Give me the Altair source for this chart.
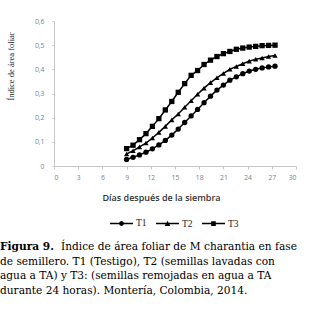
import altair as alt
import pandas as pd

# ---- data ----
days = [9.0, 9.8, 10.6, 11.4, 12.2, 13.0, 13.8, 14.6, 15.4, 16.2, 17.0, 17.8,
        18.6, 19.4, 20.2, 21.0, 21.8, 22.6, 23.4, 24.2, 25.0, 25.8, 26.6, 27.4]
t1 = [0.027, 0.036, 0.046, 0.057, 0.071, 0.087, 0.106, 0.128, 0.153, 0.180, 0.207, 0.234,
      0.262, 0.289, 0.314, 0.335, 0.355, 0.369, 0.382, 0.393, 0.400, 0.406, 0.410, 0.413]
t2 = [0.050, 0.063, 0.079, 0.095, 0.116, 0.139, 0.164, 0.191, 0.215, 0.243, 0.270, 0.297,
      0.322, 0.345, 0.365, 0.383, 0.400, 0.412, 0.423, 0.434, 0.442, 0.447, 0.453, 0.457]
t3 = [0.072, 0.086, 0.109, 0.134, 0.164, 0.196, 0.232, 0.267, 0.305, 0.341, 0.375, 0.395,
      0.420, 0.438, 0.453, 0.465, 0.474, 0.483, 0.488, 0.492, 0.495, 0.498, 0.499, 0.500]
series_names = ["T1", "T2", "T3"]
x_ticks = [0, 3, 6, 9, 12, 15, 18, 21, 24, 27, 30]
y_ticks = [0, 0.1, 0.2, 0.3, 0.4, 0.5, 0.6]

caption_bold = "Figura 9."
caption_lines = ["Índice de área foliar de M charantia en fase",
                 "de semillero. T1 (Testigo), T2 (semillas lavadas con",
                 "agua a TA) y T3: (semillas remojadas en agua a TA",
                 "durante 24 horas). Montería, Colombia, 2014."]

rows = []
for name, vals in zip(series_names, [t1, t2, t3]):
    for d, v in zip(days, vals):
        rows.append({"x": d, "y": v, "series": name})
df = pd.DataFrame(rows)

W, H = 242, 145
LEFT, TOP = 54, 21
CAP_FONT = "DejaVu Serif"
CAP_SIZE = 10.6

x_enc = alt.X("x:Q", scale=alt.Scale(domain=[0, 30], nice=False),
              axis=alt.Axis(values=x_ticks, tickCount=40, title="Días después de la siembra",
                            titleX=107, titleY=31, titleAlign="center",
                            titleBaseline="middle", titleFont="Open Sans",
                            titleFontSize=9, titleFontWeight=600, titleColor="#333333",
                            labelFont="Open Sans", labelFontSize=6.8, labelColor="#7f7f7f",
                            labelPadding=5, labelOverlap=False, tickSize=3, grid=False,
                            domainColor="#c8c8c8", tickColor="#c8c8c8"))
y_enc = alt.Y("y:Q", scale=alt.Scale(domain=[0, 0.6], nice=False),
              axis=alt.Axis(values=y_ticks, tickCount=40, title="Índice de área foliar",
                            labelExpr="datum.value == 0 ? '0' : replace(format(datum.value, '.1f'), '.', ',')",
                            titleX=-44, titleY=45, titleAngle=270, titleAlign="center",
                            titleBaseline="middle", titleFont="Liberation Serif",
                            titleFontSize=8.5, titleFontWeight="normal", titleColor="#222222",
                            labelFont="Open Sans", labelFontSize=6.8, labelColor="#7f7f7f",
                            labelPadding=8, labelOverlap=False, tickSize=2, grid=False,
                            domainColor="#c8c8c8", tickColor="#c8c8c8"))

lines = alt.Chart(df).mark_line(color="black", strokeWidth=1.5).encode(
    x=x_enc, y=y_enc, detail="series:N")

points = alt.Chart(df).mark_point(filled=True, color="black", opacity=1, size=28).encode(
    x=x_enc, y=y_enc,
    shape=alt.Shape("series:N", scale=alt.Scale(domain=series_names,
                                                range=["circle", "triangle-up", "square"]),
                    legend=None))

bar = "M-1,-0.065H1V0.065H-1Z"
circ = bar + "M0.22,0L0.156,0.156L0,0.22L-0.156,0.156L-0.22,0L-0.156,-0.156L0,-0.22L0.156,-0.156Z"
tri = bar + "M0,-0.25L0.25,0.2L-0.25,0.2Z"
sq = bar + "M-0.2,-0.2H0.2V0.2H-0.2Z"

legend_layer = alt.Chart(df).transform_filter(alt.datum.x < 0).mark_point(
    filled=True, color="black", opacity=1, size=529).encode(
    x=x_enc, y=y_enc,
    shape=alt.Shape("series:N", scale=alt.Scale(domain=series_names, range=[circ, tri, sq]),
                    legend=alt.Legend(title=None, orient="none", legendX=55, legendY=189.5,
                                      direction="horizontal", symbolSize=529,
                                      symbolFillColor="black", labelFont="Liberation Serif",
                                      labelFontSize=9.5, labelColor="#222222",
                                      labelOffset=2, columnPadding=6, symbolOpacity=1)))

cap_bold = alt.Chart(pd.DataFrame({"t": [caption_bold]})).mark_text(
    align="left", baseline="alphabetic", font=CAP_FONT, fontSize=CAP_SIZE,
    fontWeight="bold", color="black").encode(
    text="t:N", x=alt.value(-LEFT), y=alt.value(250 - TOP))

cap_layers = [cap_bold]
cap_x = [61, 0, 0, 0]
cap_y = [250, 264.6, 279.2, 293.8]
for txt, cx, cy in zip(caption_lines, cap_x, cap_y):
    cap_layers.append(
        alt.Chart(pd.DataFrame({"t": [txt]})).mark_text(
            align="left", baseline="alphabetic", font=CAP_FONT, fontSize=CAP_SIZE,
            color="black").encode(
            text="t:N", x=alt.value(cx - LEFT), y=alt.value(cy - TOP)))

chart = alt.layer(lines, points, legend_layer, *cap_layers).resolve_scale(
    shape="independent"
).properties(
    width=W, height=H,
    autosize=alt.AutoSizeParams(type="none"),
    padding={"left": LEFT, "top": TOP, "right": 310 - LEFT - W, "bottom": 310 - TOP - H},
    background="white"
).configure_view(stroke=None)

chart.save("out.html", embed_options={"renderer": "svg", "actions": False})
